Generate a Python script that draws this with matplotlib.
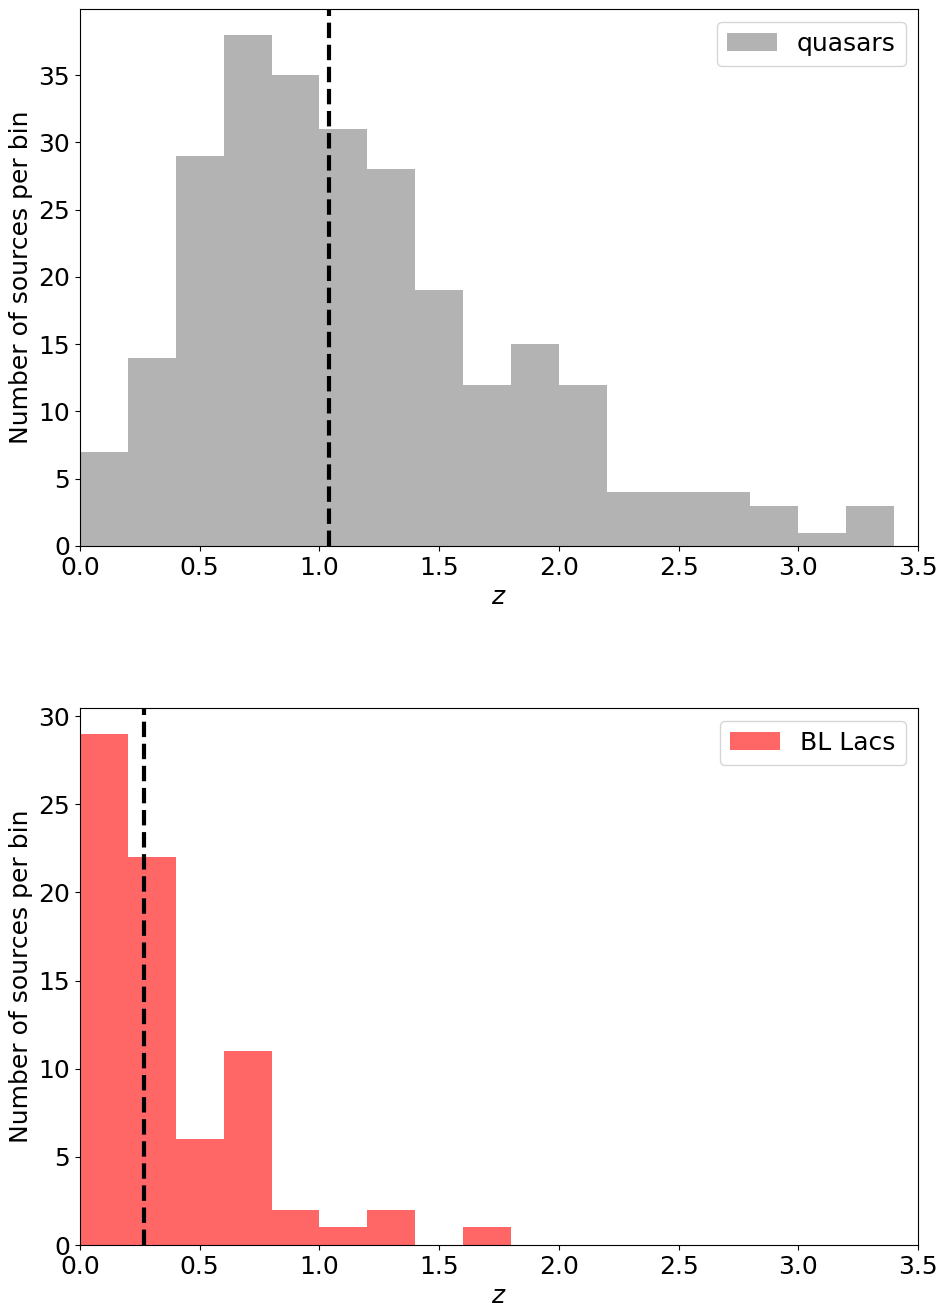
import matplotlib
matplotlib.use('Agg')
import matplotlib.pyplot as plt
import numpy as np

# redshift bins (width 0.2) and counts per bin
bin_edges = np.round(np.arange(0, 3.41, 0.2), 2)
qso_counts = [7, 14, 29, 38, 35, 31, 28, 19, 12, 15, 12, 4, 4, 4, 3, 1, 3]
bll_counts = [29, 22, 6, 11, 2, 1, 2, 0, 1, 0, 0, 0, 0, 0, 0, 0, 0]
qso_median = 1.04
bll_median = 0.267

centers = bin_edges[:-1] + 0.1

fig = plt.figure(figsize=(9.44, 13.03), dpi=100)
ax1 = fig.add_axes([0.0847, 0.581, 0.8878, 0.412])
ax2 = fig.add_axes([0.0847, 0.0445, 0.8878, 0.412])

panels = [
    (ax1, qso_counts, qso_median, '#b3b3b3', 'quasars'),
    (ax2, bll_counts, bll_median, '#ff6666', 'BL Lacs'),
]
for ax, counts, med, col, lab in panels:
    ax.hist(centers, bins=bin_edges, weights=counts, color=col, label=lab)
    ax.axvline(med, color='black', linestyle='--', linewidth=3)
    ax.set_xlim(0, 3.5)
    ax.set_xlabel('$z$', fontsize=18)
    ax.set_ylabel('Number of sources per bin', fontsize=18)
    ax.tick_params(labelsize=18)
    ax.legend(fontsize=18, loc='upper right')

plt.savefig('out.png', dpi=100, facecolor='white')
